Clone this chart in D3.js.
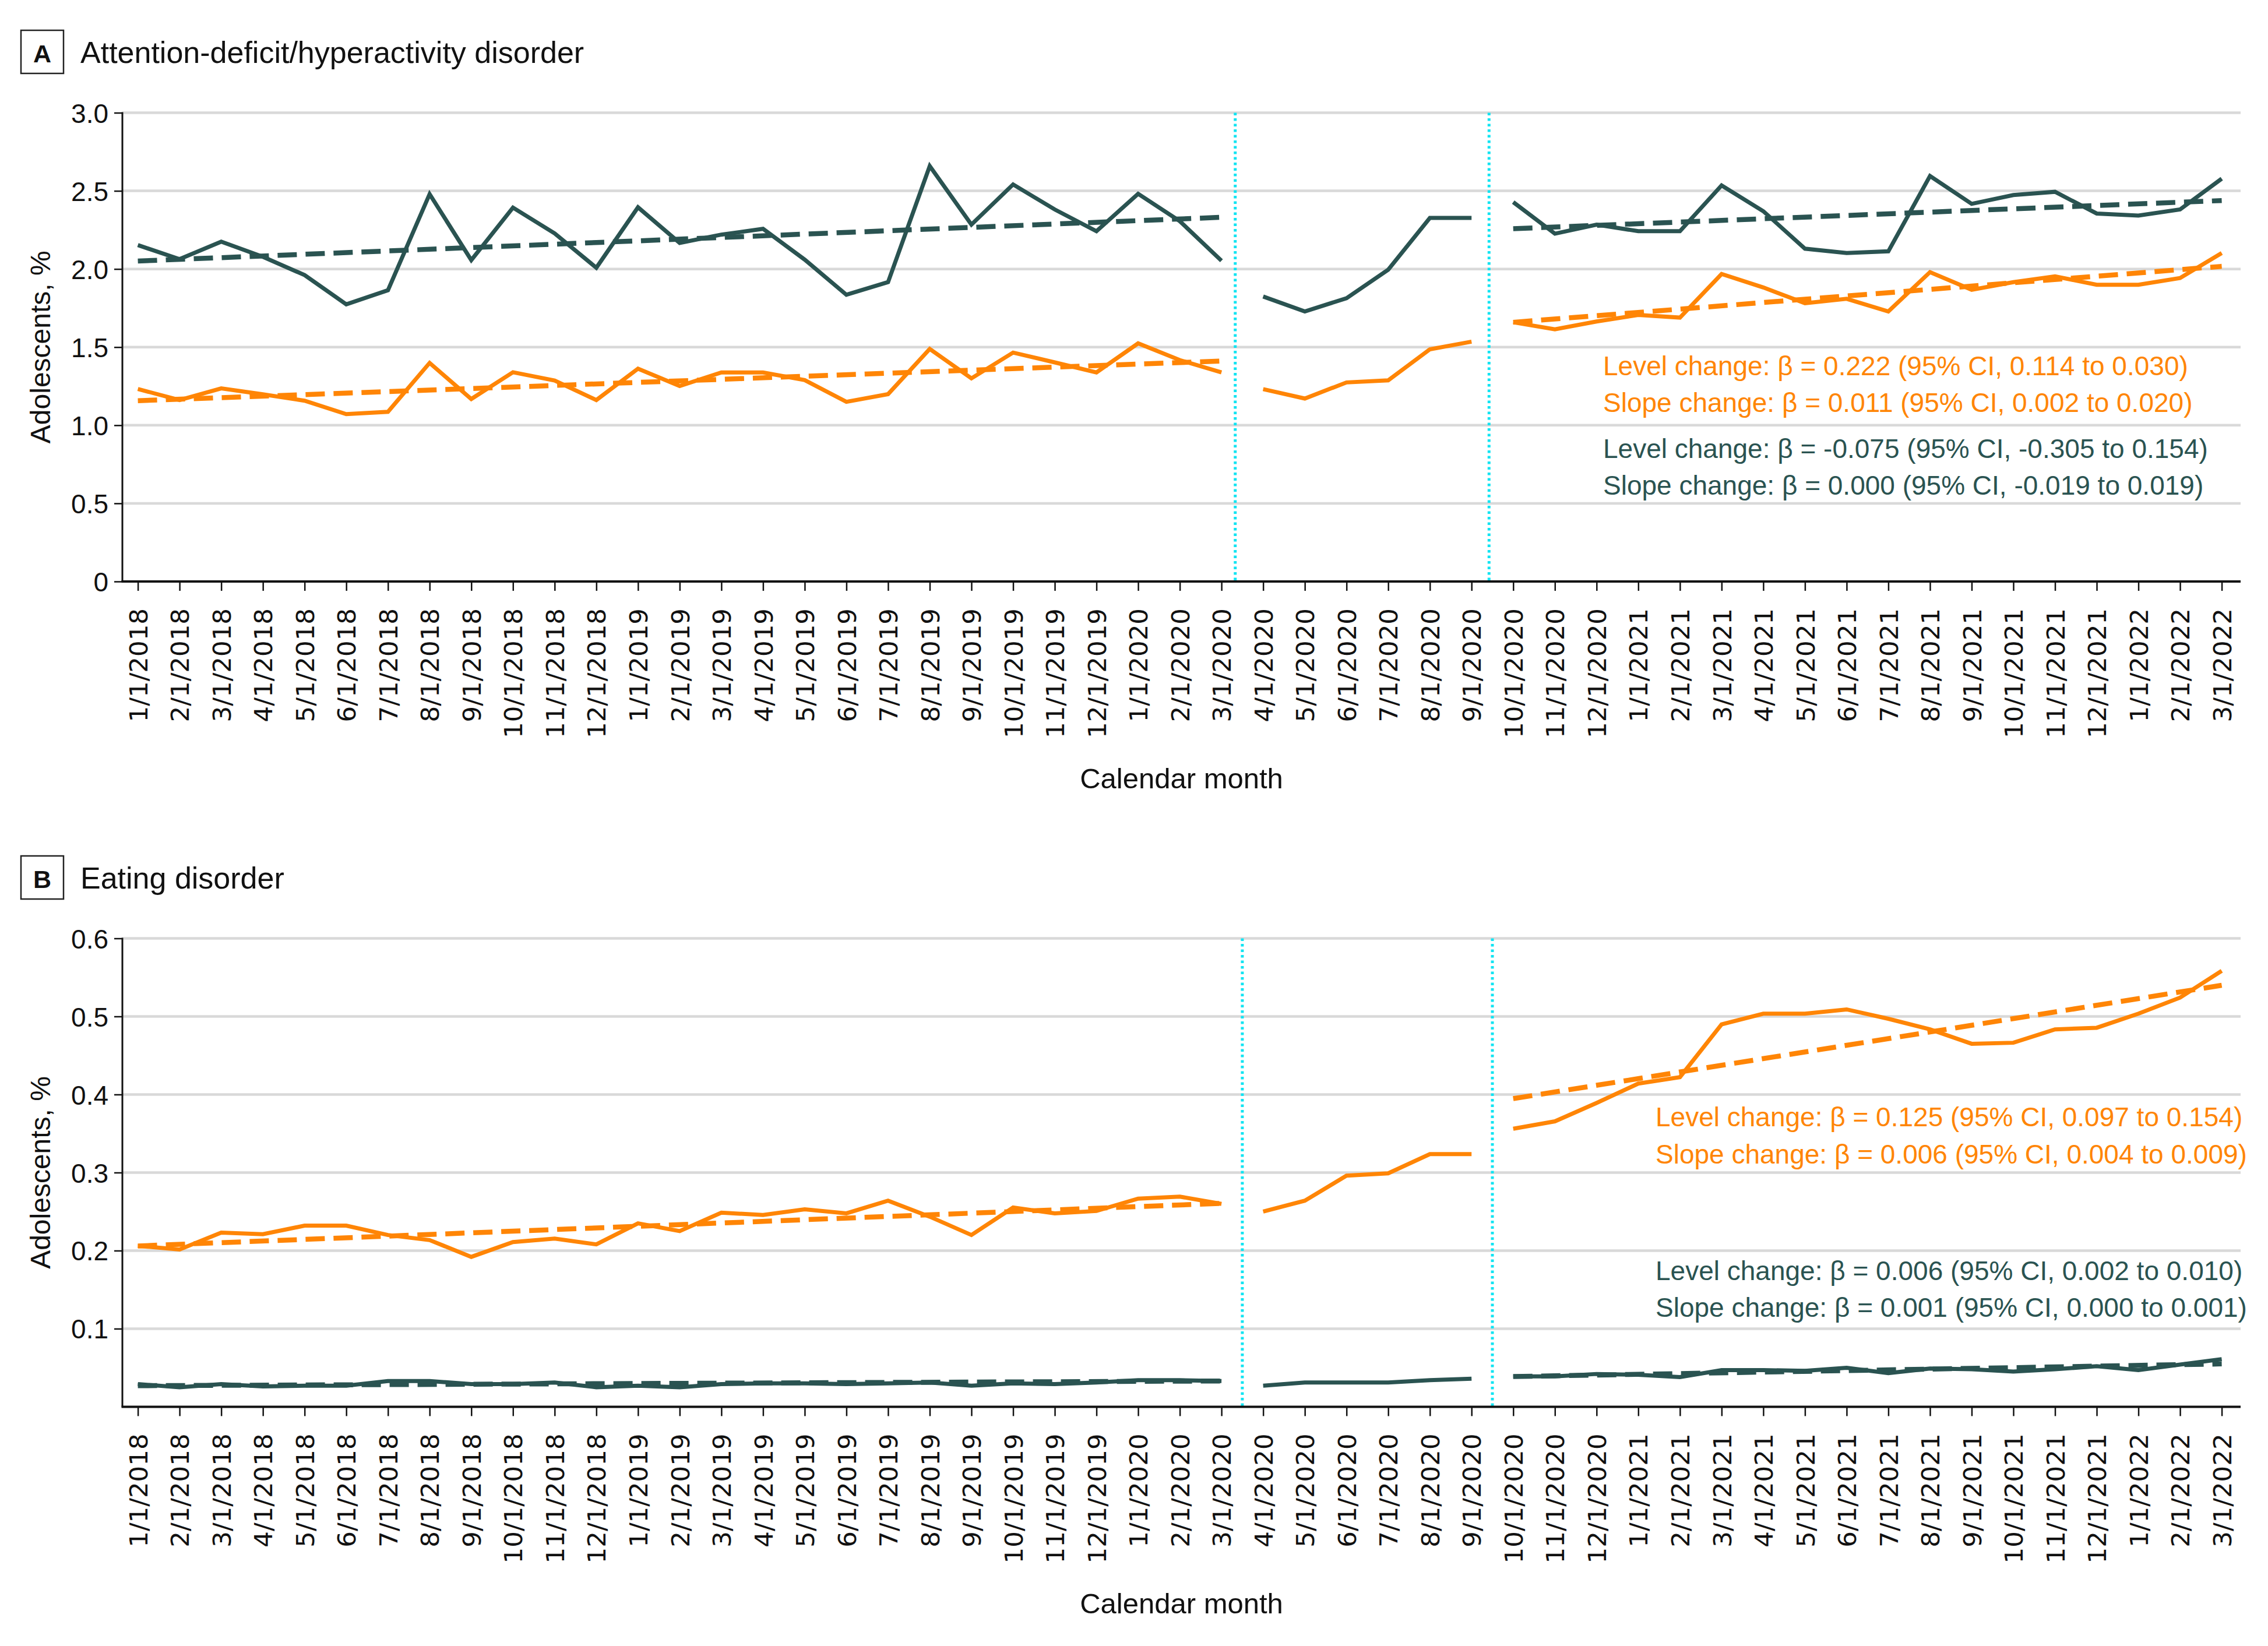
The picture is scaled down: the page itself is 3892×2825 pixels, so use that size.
<!DOCTYPE html>
<html><head><meta charset="utf-8">
<script src="https://cdn.jsdelivr.net/npm/d3@7"></script>
<style>body{margin:0;background:#fff}svg{display:block}</style>
</head><body>
<svg id="chart" width="3892" height="2825"></svg>
<script>
// ---------------- DATA ----------------
const months = ["1/1/2018","2/1/2018","3/1/2018","4/1/2018","5/1/2018","6/1/2018","7/1/2018","8/1/2018","9/1/2018","10/1/2018","11/1/2018","12/1/2018",
"1/1/2019","2/1/2019","3/1/2019","4/1/2019","5/1/2019","6/1/2019","7/1/2019","8/1/2019","9/1/2019","10/1/2019","11/1/2019","12/1/2019",
"1/1/2020","2/1/2020","3/1/2020","4/1/2020","5/1/2020","6/1/2020","7/1/2020","8/1/2020","9/1/2020","10/1/2020","11/1/2020","12/1/2020",
"1/1/2021","2/1/2021","3/1/2021","4/1/2021","5/1/2021","6/1/2021","7/1/2021","8/1/2021","9/1/2021","10/1/2021","11/1/2021","12/1/2021",
"1/1/2022","2/1/2022","3/1/2022"];

// study periods (solid lines are broken between them)
const periods = [["1/1/2018","3/1/2020"],["4/1/2020","9/1/2020"],["10/1/2020","3/1/2022"]];

// Panel A: ADHD
const adhdOrange = [1.232,1.161,1.236,1.198,1.157,1.071,1.086,1.399,1.168,1.339,1.286,1.161,
1.362,1.251,1.338,1.338,1.289,1.150,1.199,1.488,1.300,1.465,1.402,1.338,
1.524,1.417,1.338,1.231,1.171,1.274,1.287,1.486,1.535,1.659,1.614,1.664,
1.706,1.689,1.968,1.882,1.781,1.809,1.728,1.980,1.867,1.916,1.953,1.899,
1.899,1.942,2.102];
const adhdDark = [2.153,2.063,2.175,2.078,1.961,1.774,1.864,2.479,2.057,2.393,2.228,2.008,
2.395,2.167,2.220,2.257,2.060,1.835,1.916,2.659,2.284,2.541,2.381,2.242,
2.481,2.306,2.053,1.824,1.728,1.813,1.995,2.327,2.327,2.428,2.226,2.284,
2.242,2.242,2.535,2.370,2.130,2.102,2.113,2.595,2.417,2.473,2.494,2.355,
2.342,2.381,2.578];
const adhdTrendOrange = [{from:"1/1/2018",to:"3/1/2020",start:1.157,end:1.411},{from:"10/1/2020",to:"3/1/2022",start:1.659,end:2.017}];
const adhdTrendDark   = [{from:"1/1/2018",to:"3/1/2020",start:2.051,end:2.331},{from:"10/1/2020",to:"3/1/2022",start:2.258,end:2.438}];
const adhdBreaks = [{after:"3/1/2020",frac:0.33},{after:"9/1/2020",frac:0.42}];
const adhdTicks = [0,0.5,1.0,1.5,2.0,2.5,3.0];
const adhdNotesOrange = ["Level change: β = 0.222 (95% CI, 0.114 to 0.030)","Slope change: β = 0.011 (95% CI, 0.002 to 0.020)"];
const adhdNotesDark   = ["Level change: β = -0.075 (95% CI, -0.305 to 0.154)","Slope change: β = 0.000 (95% CI, -0.019 to 0.019)"];

// Panel B: Eating disorder
const edOrange = [0.206,0.2015,0.223,0.221,0.232,0.232,0.220,0.2135,0.192,0.211,0.2155,0.208,
0.235,0.225,0.2487,0.2456,0.2529,0.2478,0.264,0.2435,0.220,0.2552,0.2478,0.2508,
0.2666,0.2692,0.2598,0.250,0.264,0.296,0.299,0.3236,0.3236,0.3561,0.3656,0.3891,
0.414,0.4222,0.4899,0.5035,0.5035,0.509,0.497,0.4834,0.465,0.4663,0.4834,0.4855,
0.5035,0.5241,0.5584];
const edDark = [0.029,0.025,0.029,0.026,0.027,0.027,0.033,0.033,0.029,0.029,0.031,0.025,
0.027,0.025,0.029,0.030,0.030,0.029,0.030,0.031,0.027,0.030,0.029,0.031,
0.034,0.034,0.033,0.027,0.031,0.031,0.031,0.034,0.036,0.039,0.039,0.042,
0.041,0.038,0.047,0.047,0.046,0.050,0.043,0.049,0.048,0.045,0.048,0.052,
0.047,0.054,0.061];
const edTrendOrange = [{from:"1/1/2018",to:"3/1/2020",start:0.206,end:0.2606},{from:"10/1/2020",to:"3/1/2022",start:0.3947,end:0.5399}];
const edTrendDark   = [{from:"1/1/2018",to:"3/1/2020",start:0.027,end:0.033},{from:"10/1/2020",to:"3/1/2022",start:0.0387,end:0.0549}];
const edBreaks = [{after:"3/1/2020",frac:0.5},{after:"9/1/2020",frac:0.5}];
const edTicks = [0.1,0.2,0.3,0.4,0.5,0.6];
const edNotesOrange = ["Level change: β = 0.125 (95% CI, 0.097 to 0.154)","Slope change: β = 0.006 (95% CI, 0.004 to 0.009)"];
const edNotesDark   = ["Level change: β = 0.006 (95% CI, 0.002 to 0.010)","Slope change: β = 0.001 (95% CI, 0.000 to 0.001)"];

// ---------------- STYLE ----------------
const W = 3892, H = 2825;
const DARK = "#2a5351", ORANGE = "#ff8505", GRID = "#d9d9d9", CYAN = "#12e4f2";
const FONT = "'Liberation Sans', Arial, sans-serif";
const TICKFONT = "'DejaVu Sans', sans-serif";
const plotLeft = 210, plotRight = 3845;

const svg = d3.select("#chart");
svg.append("rect").attr("width", W).attr("height", H).attr("fill", "#fff");

const x = d3.scalePoint().domain(months).range([236.6, 3812.6]);
const step = x.step();

function panel(cfg) {
  const g = svg.append("g");
  const y = d3.scaleLinear().domain(cfg.domain).range(cfg.range);
  const y0 = cfg.range[0], yTop = cfg.range[1];

  // panel letter & title
  g.append("rect").attr("x", 36).attr("y", cfg.boxTop).attr("width", 73).attr("height", 74)
    .attr("fill", "none").attr("stroke", "#222").attr("stroke-width", 2.5);
  g.append("text").attr("x", 72.5).attr("y", cfg.boxTop + 55).attr("text-anchor", "middle")
    .attr("font-family", FONT).attr("font-weight", "bold").attr("font-size", 43).attr("fill", "#111").text(cfg.letter);
  g.append("text").attr("x", 138).attr("y", cfg.boxTop + 56)
    .attr("font-family", FONT).attr("font-size", 52).attr("fill", "#111").text(cfg.title);

  // gridlines
  g.append("g").selectAll("line").data(cfg.ticks.filter(t => t !== 0)).join("line")
    .attr("x1", plotLeft).attr("x2", plotRight).attr("y1", d => y(d)).attr("y2", d => y(d))
    .attr("stroke", GRID).attr("stroke-width", 4.5);

  // interruption lines
  g.append("g").selectAll("line").data(cfg.breaks).join("line")
    .attr("x1", d => x(d.after) + d.frac * step).attr("x2", d => x(d.after) + d.frac * step)
    .attr("y1", yTop).attr("y2", y0)
    .attr("stroke", CYAN).attr("stroke-width", 5).attr("stroke-dasharray", "4.5,5");

  // y axis
  const ya = g.append("g").attr("transform", `translate(${plotLeft},0)`)
    .call(d3.axisLeft(y).tickValues(cfg.ticks).tickSize(14).tickSizeOuter(0)
      .tickFormat(d => d === 0 ? "0" : d3.format(".1f")(d)));
  ya.select(".domain").remove();
  ya.selectAll(".tick line").attr("stroke", "#111").attr("stroke-width", 2.5);
  ya.selectAll(".tick text").attr("font-family", FONT).attr("font-size", 46).attr("fill", "#111")
    .attr("x", -24).attr("dy", "0.36em");
  g.append("line").attr("x1", plotLeft).attr("x2", plotLeft).attr("y1", yTop - 1).attr("y2", y0)
    .attr("stroke", "#111").attr("stroke-width", 3);

  // x axis
  const xa = g.append("g").attr("transform", `translate(0,${y0})`)
    .call(d3.axisBottom(x).tickSize(16).tickSizeOuter(0));
  xa.select(".domain").remove();
  xa.selectAll(".tick line").attr("stroke", "#111").attr("stroke-width", 2.5);
  xa.selectAll(".tick text").attr("font-family", TICKFONT).attr("font-size", 43.5).attr("fill", "#111")
    .attr("transform", "rotate(-90)").attr("text-anchor", "end")
    .attr("x", -46).attr("y", 0).attr("dy", "0.36em");
  g.append("line").attr("x1", plotLeft - 1.5).attr("x2", plotRight).attr("y1", y0).attr("y2", y0)
    .attr("stroke", "#111").attr("stroke-width", 4);

  // axis titles
  g.append("text").attr("transform", `translate(86,${(y0 + yTop) / 2}) rotate(-90)`)
    .attr("text-anchor", "middle").attr("font-family", FONT).attr("font-size", 48).attr("fill", "#111")
    .text("Adolescents, %");
  g.append("text").attr("x", (plotLeft + plotRight) / 2).attr("y", y0 + 355)
    .attr("text-anchor", "middle").attr("font-family", FONT).attr("font-size", 49).attr("fill", "#111")
    .text("Calendar month");

  // trend lines (dashed)
  const trendLine = d3.line().x(d => x(d[0])).y(d => y(d[1]));
  [[cfg.trendDark, DARK], [cfg.trendOrange, ORANGE]].forEach(([tr, col]) => {
    g.append("g").selectAll("path").data(tr).join("path")
      .attr("d", d => trendLine([[d.from, d.start], [d.to, d.end]]))
      .attr("fill", "none").attr("stroke", col).attr("stroke-width", 8.5).attr("stroke-dasharray", "33,15");
  });

  // observed series (solid, broken between periods)
  const line = d3.line().x(d => x(d.m)).y(d => y(d.v));
  [[cfg.dark, DARK], [cfg.orange, ORANGE]].forEach(([vals, col]) => {
    const pts = months.map((m, i) => ({ m, v: vals[i] }));
    periods.forEach(([a, b]) => {
      const ia = months.indexOf(a), ib = months.indexOf(b);
      g.append("path").datum(pts.slice(ia, ib + 1)).attr("d", line)
        .attr("fill", "none").attr("stroke", col).attr("stroke-width", 7).attr("stroke-linejoin", "miter");
    });
  });

  // annotations
  const notes = cfg.notesOrange.map((t, i) => ({ t, col: ORANGE, yb: cfg.noteY[i] }))
    .concat(cfg.notesDark.map((t, i) => ({ t, col: DARK, yb: cfg.noteY[i + 2] })));
  g.append("g").selectAll("text").data(notes).join("text")
    .attr("x", cfg.noteX).attr("y", d => d.yb)
    .attr("font-family", FONT).attr("font-size", 46).attr("fill", d => d.col).text(d => d.t);
}

panel({
  letter: "A", title: "Attention-deficit/hyperactivity disorder", boxTop: 52,
  domain: [0, 3], range: [998, 193.5], ticks: adhdTicks,
  orange: adhdOrange, dark: adhdDark, trendOrange: adhdTrendOrange, trendDark: adhdTrendDark,
  breaks: adhdBreaks, notesOrange: adhdNotesOrange, notesDark: adhdNotesDark,
  noteX: 2751, noteY: [644, 707, 786, 849]
});

panel({
  letter: "B", title: "Eating disorder", boxTop: 1469,
  domain: [0, 0.6], range: [2414.4, 1610.5], ticks: edTicks,
  orange: edOrange, dark: edDark, trendOrange: edTrendOrange, trendDark: edTrendDark,
  breaks: edBreaks, notesOrange: edNotesOrange, notesDark: edNotesDark,
  noteX: 2841, noteY: [1933, 1997, 2197, 2260]
});
</script>
</body></html>
